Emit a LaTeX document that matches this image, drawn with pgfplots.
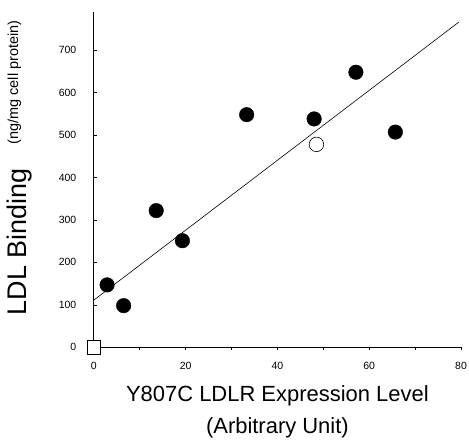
\documentclass[border=0pt]{standalone}
\usepackage{fontspec}
\setmainfont{Liberation Sans}
\usepackage{pgfplots}
\pgfplotsset{compat=1.18}

\begin{document}
\begin{tikzpicture}
\begin{axis}[
    scale only axis,
    width=368pt, height=336pt,
    xmin=0, xmax=80, ymin=0, ymax=790,
    axis x line=bottom, axis y line=left,
    axis line style={-, line width=0.7pt},
    xtick={0,20,40,60,80}, minor x tick num=1,
    ytick={0,100,...,700},
    tick style={black, line width=0.6pt},
    major tick length=3pt, minor tick length=3pt,
    xtick align=outside, ytick align=inside,
    /pgf/number format/assume math mode=true,
    ticklabel style={font=\fontsize{10.5}{11}\selectfont},
    yticklabel style={xshift=-14pt},
    xticklabel style={yshift=-8pt},
    clip=false,
    xlabel={Y807C LDLR Expression Level\\[8pt](Arbitrary Unit)},
    xlabel style={at={(axis description cs:0.5,0)}, anchor=north, yshift=-38pt,
        align=center, inner sep=0pt, font=\fontsize{22}{24}\selectfont},
    ylabel={\fontsize{27}{27}\selectfont LDL Binding\hspace{24pt}\raisebox{8pt}{\fontsize{14.5}{15}\selectfont(ng/mg cell protein)}},
    ylabel style={at={(axis description cs:0,0.535)}, anchor=south,
        yshift=62pt, inner sep=0pt},
]
% regression line
\addplot[black, line width=0.6pt] coordinates {(0,111) (79.5,766)};
% filled points
\addplot[only marks, mark=*, mark size=7.3pt, mark options={fill=black, draw=black}]
    coordinates {(2.9,147) (6.5,98) (13.6,322) (19.3,251) (33.3,548) (48.0,538) (57.1,648) (65.7,507)};
% open circle
\addplot[only marks, mark=o, mark size=7.3pt, mark options={fill=white, draw=black, line width=0.6pt}]
    coordinates {(48.5,478)};
% open square at origin
\addplot[only marks, mark=square*, mark size=7pt, mark options={fill=white, draw=black, line width=0.6pt}]
    coordinates {(0,0)};
\end{axis}
\pgfresetboundingbox
\path ([shift={(-94pt,-97pt)}]current axis.south west) rectangle ([shift={(8pt,12pt)}]current axis.north east);
\end{tikzpicture}
\end{document}
